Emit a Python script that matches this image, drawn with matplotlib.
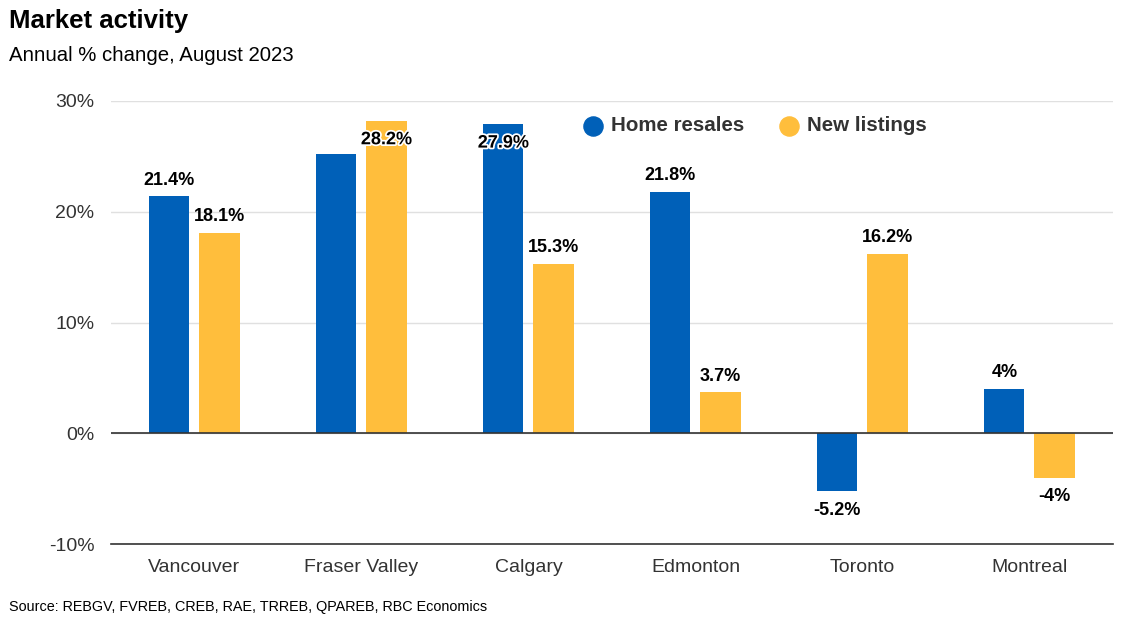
import matplotlib.pyplot as plt
import matplotlib.patheffects as pe
import numpy as np

plt.rcParams['font.family'] = ['Liberation Sans', 'DejaVu Sans']

cities = ['Vancouver', 'Fraser Valley', 'Calgary', 'Edmonton', 'Toronto', 'Montreal']
home_resales = [21.4, 25.2, 27.9, 21.8, -5.2, 4.0]
new_listings = [18.1, 28.2, 15.3, 3.7, 16.2, -4.0]
resales_labels = ['21.4%', '', '27.9%', '21.8%', '-5.2%', '4%']
listings_labels = ['18.1%', '28.2%', '15.3%', '3.7%', '16.2%', '-4%']
yticks = [-10, 0, 10, 20, 30]

blue = '#0060b8'
yellow = '#ffbe3c'

fig = plt.figure(figsize=(11.45, 6.32), dpi=100)
ax = fig.add_axes([0.0969, 0.1392, 0.8751, 0.701])

x = np.arange(len(cities))
w = 0.24
off = 0.15
ax.bar(x - off, home_resales, w, color=blue, zorder=3)
ax.bar(x + off, new_listings, w, color=yellow, zorder=3)

def put_labels(xs, vals, labels):
    for xi, v, lab in zip(xs, vals, labels):
        if not lab:
            continue
        if v > 27:
            t = ax.text(xi, v - 1.7, lab, ha='center', va='center', fontsize=13,
                        fontweight='bold', color='black', zorder=5)
            t.set_path_effects([pe.withStroke(linewidth=2.5, foreground='white')])
        elif v >= 0:
            ax.text(xi, v + 1.45, lab, ha='center', va='center', fontsize=13,
                    fontweight='bold', color='black', zorder=5)
        else:
            ax.text(xi, v - 1.75, lab, ha='center', va='center', fontsize=13,
                    fontweight='bold', color='black', zorder=5)

put_labels(x - off, home_resales, resales_labels)
put_labels(x + off, new_listings, listings_labels)

ax.set_xlim(-0.5, len(cities) - 0.5)
ax.set_ylim(-10, 30)
ax.set_yticks(yticks)
ax.set_yticklabels([f'{t}%' for t in yticks], fontsize=14, color='#333333')
ax.set_xticks(x)
ax.set_xticklabels(cities, fontsize=14, color='#333333')
ax.tick_params(axis='both', length=0)
ax.tick_params(axis='y', pad=12)
ax.tick_params(axis='x', pad=11)

for s in ['top', 'right', 'left']:
    ax.spines[s].set_visible(False)
ax.spines['bottom'].set_color('#333333')
ax.spines['bottom'].set_linewidth(1.2)
ax.grid(axis='y', color='#e0e0e0', linewidth=1, zorder=0)
ax.axhline(0, color='#333333', linewidth=1.2, zorder=4)

# legend
ax.scatter([], [], s=190, color=blue, label='Home resales')
ax.scatter([], [], s=190, color=yellow, label='New listings')
ax.legend(loc='upper left', bbox_to_anchor=(0.452, 1.008), ncol=2, frameon=False,
          prop={'size': 14.8, 'weight': 'bold'}, labelcolor='#333333',
          handlelength=1.0, handletextpad=0.4, columnspacing=1.67)

fig.text(0.008, 0.967, 'Market activity', fontsize=18.5, fontweight='bold', va='center')
fig.text(0.008, 0.912, 'Annual % change, August 2023', fontsize=14.7, va='center')
fig.text(0.008, 0.04, 'Source: REBGV, FVREB, CREB, RAE, TRREB, QPAREB, RBC Economics',
         fontsize=10.4, va='center')

fig.savefig('out.png', dpi=100)
